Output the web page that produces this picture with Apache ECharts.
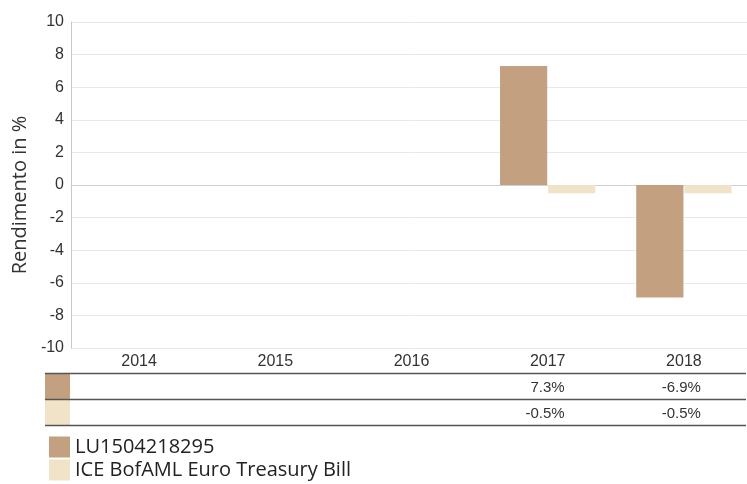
<!DOCTYPE html>
<html>
<head>
<meta charset="utf-8">
<script src="https://cdn.jsdelivr.net/npm/echarts@6/dist/echarts.min.js"></script>
<style>
  html, body { margin: 0; padding: 0; background: #fff; }
  #main { width: 747px; height: 484px; }
</style>
</head>
<body>
<div id="main"></div>
<script>
// data
var years = ['2014', '2015', '2016', '2017', '2018']
var fundName = 'LU1504218295'
var benchName = 'ICE BofAML Euro Treasury Bill'
var fundValues = [null, null, null, 7.3, -6.9]
var benchValues = [null, null, null, -0.5, -0.5]
var yTicks = { min: -10, max: 10, step: 2 }

var fundColor = '#c3a080'
var benchColor = '#f0e3c8'

function pct(list) {
  return function (v, i) {
    var x = list[i]
    return x == null ? '' : '{v|' + x.toFixed(1) + '%}'
  }
}

function tableAxis(list, offset) {
  return {
    type: 'category',
    data: years,
    position: 'bottom',
    offset: offset,
    axisLine: { show: false },
    axisTick: { show: false },
    splitLine: { show: false },
    axisLabel: {
      margin: 6,
      formatter: pct(list),
      rich: {
        v: { width: 34, align: 'right', fontSize: 15, color: '#333', fontFamily: 'Liberation Sans' }
      }
    }
  }
}

var myChart = echarts.init(document.getElementById('main'))
option = {
  animation: false,
  backgroundColor: '#fff',
  grid: { left: 71, right: -5, top: 22, bottom: 136, containLabel: false, outerBoundsMode: 'none' },
  legend: {
    orient: 'vertical',
    left: 49,
    top: 436,
    padding: 0,
    itemWidth: 21,
    itemHeight: 21,
    itemGap: 1,
    icon: 'rect',
    textStyle: { fontSize: 20, lineHeight: 22, color: '#222', fontFamily: 'Open Sans' },
    data: [fundName, benchName]
  },
  xAxis: [
    {
      type: 'category',
      data: years,
      axisLine: { show: true, lineStyle: { color: '#d0d0d0' } },
      axisTick: { show: false },
      axisLabel: { margin: 6, fontSize: 16, color: '#333', fontFamily: 'Liberation Sans' }
    },
    tableAxis(fundValues, 26),
    tableAxis(benchValues, 52)
  ],
  yAxis: {
    type: 'value',
    min: yTicks.min,
    max: yTicks.max,
    interval: yTicks.step,
    name: 'Rendimento in %',
    nameLocation: 'middle',
    nameRotate: 90,
    nameGap: 39,
    nameTextStyle: { fontSize: 20, color: '#333', fontFamily: 'Open Sans', padding: [0, 20, 0, 0] },
    axisLine: { show: true, lineStyle: { color: '#c8c8c8' } },
    axisTick: { show: false },
    axisLabel: { margin: 7, fontSize: 16, color: '#333', fontFamily: 'Liberation Sans' },
    splitLine: { lineStyle: { color: '#e8e8e8' } }
  },
  series: [
    {
      name: fundName,
      type: 'bar',
      data: fundValues,
      barCategoryGap: '30%',
      barGap: '2%',
      itemStyle: { color: fundColor }
    },
    {
      name: benchName,
      type: 'bar',
      data: benchValues,
      barCategoryGap: '30%',
      barGap: '2%',
      itemStyle: { color: benchColor }
    }
  ],
  graphic: [
    { type: 'rect', shape: { x: 45, y: 374, width: 25, height: 25 }, style: { fill: fundColor } },
    { type: 'rect', shape: { x: 45, y: 400, width: 25, height: 25 }, style: { fill: benchColor } },
    { type: 'line', shape: { x1: 45, y1: 373.5, x2: 746, y2: 373.5 }, style: { stroke: '#555', lineWidth: 1.5 } },
    { type: 'line', shape: { x1: 45, y1: 399.5, x2: 746, y2: 399.5 }, style: { stroke: '#555', lineWidth: 1.5 } },
    { type: 'line', shape: { x1: 45, y1: 425.5, x2: 746, y2: 425.5 }, style: { stroke: '#555', lineWidth: 1.5 } }
  ]
}
myChart.setOption(option)
</script>
</body>
</html>
